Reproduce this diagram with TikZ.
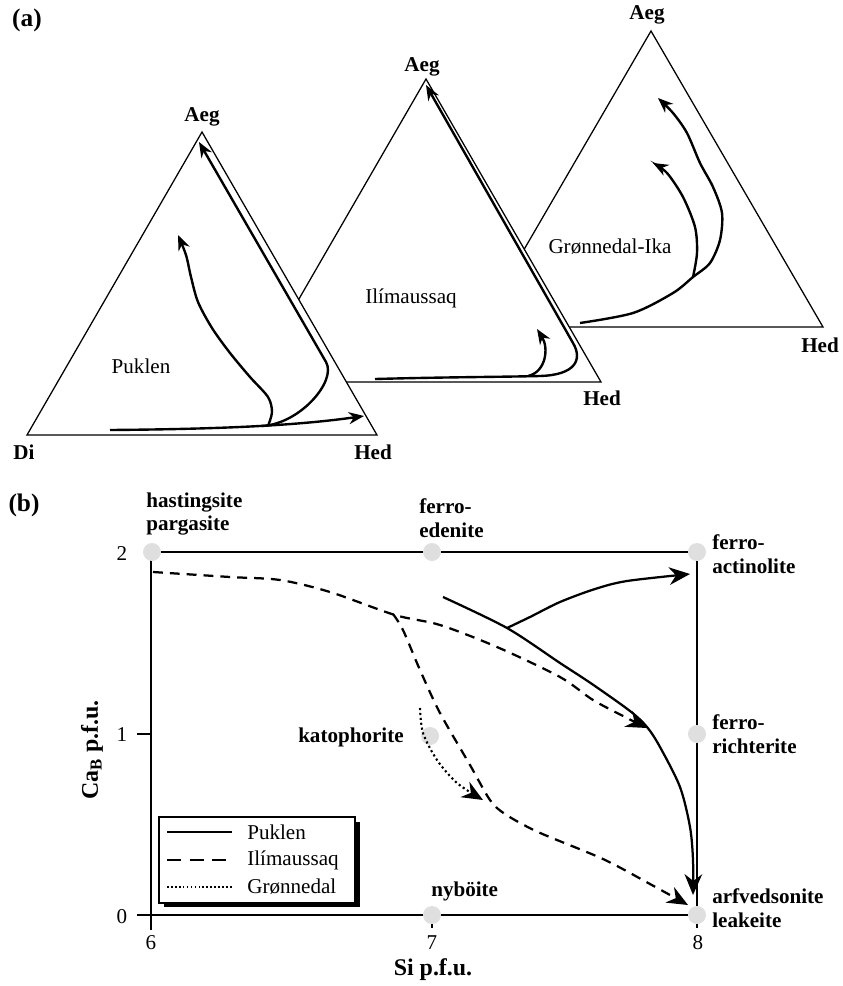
\documentclass[tikz,border=0pt]{standalone}
\usepackage{fontspec}
\setmainfont{Liberation Serif}
\usetikzlibrary{arrows.meta, positioning}

\begin{document}
\begin{tikzpicture}[
  x=0.025cm, y=-0.025cm,
  every node/.style={font=\fontsize{15}{17}\selectfont, inner sep=0pt},
  lbl/.style={font=\bfseries\fontsize{15}{17}\selectfont},
  panel/.style={font=\bfseries\fontsize{18}{20}\selectfont},
  axlbl/.style={font=\bfseries\fontsize{17}{20}\selectfont},
  tri/.style={draw, line width=0.9pt, fill=white},
  arrowa/.style={-{Stealth[length=0.38cm, width=0.3cm]}},
  arrowb/.style={-{Stealth[length=0.52cm, width=0.44cm]}},
  spot/.style={circle, fill=gray!25, minimum size=0.45cm},
  axis/.style={line width=1pt},
  trend/.style={line width=1.7pt},
  puk/.style={line width=1.6pt},
  ili/.style={line width=1.6pt, dash pattern=on 7pt off 5pt},
  gro/.style={line width=1.5pt, dash pattern=on 1.5pt off 2pt},
]
\useasboundingbox (0,0) rectangle (842,986);

% (a) ternary plots
\node[panel] (pa) at (27,20) {(a)};

\draw[tri] (479,327) -- (823,327) -- (651,31) -- cycle;
\draw[trend, arrowa] plot[smooth] coordinates {(580,323) (633,313) (673,293) (693,277) (710,263) (720,240) (722,213) (713,187) (700,163) (687,133) (673,113) (658,98)};
\draw[trend, arrowa] plot[smooth] coordinates {(693,277) (697,253) (695,227) (683,197) (667,173) (653,163)};
\node[lbl] (aeg3) at (647,15) {Aeg};
\node[lbl] (hed3) at (820,345) {Hed};
\node (gron) at (610,247) {Grønnedal-Ika};

\draw[tri] (251,382) -- (601,382) -- (426,79) -- cycle;
\draw[trend, arrowa] (375,379) .. controls (450,377) and (500,377) .. (540,376) .. controls (575,375) and (583,360) .. (573,343) -- (426,85);
\draw[trend, arrowa] (528,376) .. controls (546,372) and (549,348) .. (537,329);
\node[lbl] (aeg2) at (422,67) {Aeg};
\node[lbl] (hed2) at (602,398) {Hed};
\node (ilim) at (411,298) {Ilímaussaq};

\draw[tri] (27,435) -- (377,435) -- (202,132) -- cycle;
\draw[trend, arrowa] (110,430) .. controls (230,429) and (300,425) .. (364,416);
\draw[trend, arrowa] plot[smooth] coordinates {(268,426) (272,412) (268,397) (250,377) (230,353) (212,328) (198,302) (191,277) (186,255) (178,235)};
\draw[trend, arrowa] (262,426) .. controls (300,424) and (337,381) .. (326,362) -- (199,142);
\node[lbl] (aeg1) at (202,117) {Aeg};
\node[lbl] (di1) at (24,452) {Di};
\node[lbl] (hed1) at (373,452) {Hed};
\node (pukl) at (141,366) {Puklen};

% (b) Ca_B vs Si
\node[panel] (pb) at (24,505) {(b)};

\draw[axis] (137,915) -- (697,915);
\draw[axis] (151,552) -- (697,552);
\draw[axis] (151,552) -- (151,930);
\draw[axis] (697,552) -- (697,928);
\draw[axis] (137,734) -- (151,734);
\draw[axis] (432,915) -- (432,928);

\node[spot] (hast) at (152,552) {};
\node[spot] (fed) at (432,552) {};
\node[spot] (fact) at (697,552) {};
\node[spot] (kat) at (430,736) {};
\node[spot] (fric) at (697,734) {};
\node[spot] (nyb) at (432,915) {};
\node[spot] (arf) at (697,915) {};

\node[lbl, anchor=west, align=left] (lhast) at (146,514) {hastingsite\\pargasite};
\node[lbl, anchor=west, align=left] (lfed) at (419,518) {ferro-\\edenite};
\node[lbl, anchor=west, align=left] (lfact) at (712,554) {ferro-\\actinolite};
\node[lbl, anchor=east] (lkat) at (404,737) {katophorite};
\node[lbl, anchor=west, align=left] (lfric) at (712,734) {ferro-\\richterite};
\node[lbl, anchor=west] (lnyb) at (431,891) {nyböite};
\node[lbl, anchor=west, align=left] (larf) at (712,908) {arfvedsonite\\leakeite};

\node (t2) at (122,554) {2};
\node (t1) at (122,735) {1};
\node (t0) at (122,917) {0};
\node (s6) at (151,943) {6};
\node (s7) at (432,943) {7};
\node (s8) at (698,943) {8};
\node[axlbl, anchor=base] (xlab) at (433,975) {Si p.f.u.};
\node[axlbl, rotate=90] (ylab) at (92,750) {Ca\textsubscript{B} p.f.u.};

% trends
\draw[ili, arrowb] plot[smooth] coordinates {(153,572) (230,577) (280,580) (330,592) (395,615) (440,625) (497,647) (560,677) (593,700) (627,718) (647,728)};
\draw[ili, arrowb] plot[smooth] coordinates {(393,614) (403,630) (420,670) (440,713) (470,765) (490,800) (505,814) (538,832) (603,859) (650,884) (688,905)};
\draw[gro, arrowb] plot[smooth] coordinates {(420,708) (423,733) (437,760) (457,783) (483,800)};
\draw[puk, arrowb] plot[smooth] coordinates {(443,597) (507,628) (560,663) (592,684) (630,711) (647,727) (660,747) (680,787) (690,827) (693,860) (693,895)};
\draw[puk, arrowb] plot[smooth] coordinates {(507,628) (530,617) (560,602) (595,589) (627,581) (690,574)};

% legend
\fill (164,822) rectangle (360,907);
\draw[fill=white, line width=0.8pt] (159,817) rectangle (355,903);
\draw[puk] (167,832) -- (232,832);
\draw[line width=1.6pt, dash pattern=on 10pt off 6pt] (167,860) -- (232,860);
\draw[line width=1.3pt, dash pattern=on 1.2pt off 1.6pt] (167,887) -- (232,887);
\node[anchor=west] (lgpuk) at (247,832) {Puklen};
\node[anchor=west] (lgili) at (247,860) {Ilímaussaq};
\node[anchor=west] (lggro) at (247,887) {Grønnedal};

\end{tikzpicture}
\end{document}
